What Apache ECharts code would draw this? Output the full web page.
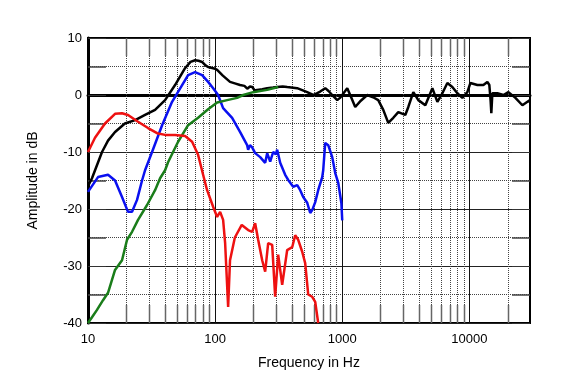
<!DOCTYPE html>
<html><head><meta charset="utf-8">
<script src="https://cdn.jsdelivr.net/npm/echarts@6/dist/echarts.min.js"></script>
<style>html,body{margin:0;padding:0;background:#fff}#c{width:580px;height:387px}</style>
</head><body><div id="c"></div>
<script>
const xTickLabels = [10, 100, 1000, 10000];
const yTickLabels = [-40, -30, -20, -10, 0, 10];
const minorFreqs = [20,30,40,50,60,70,80,90,200,300,400,500,600,700,800,900,2000,3000,4000,5000,6000,7000,8000,9000,20000];

const blackCurve = [[10,-16],[10.75,-14.6],[12.89,-10],[14.37,-8],[16.32,-6.5],[19.5,-5],[23.5,-4.4],[28.1,-3.5],[33.7,-2.6],[40.4,-0.9],[48.4,1.75],[58,4.7],[64,5.8],[69.6,6.1],[74,6.0],[79,5.8],[84,5.2],[88.1,4.9],[100,4.6],[103.7,4.4],[115,3.4],[131,2.3],[145,2.0],[157,1.75],[170,1.6],[179,1.1],[188,1.5],[196,1.4],[205,0.8],[214,0.9],[235,1.0],[257,1.2],[285,1.3],[308,1.4],[340,1.5],[369,1.4],[442,1.2],[530,0.5],[591,0],[630,0.3],[671,0.6],[735,1.2],[780,0.7],[834,0],[914,-0.9],[960,-0.5],[1000,0],[1095,1.2],[1180,-0.5],[1265,-2.1],[1400,-1.0],[1573,0],[1750,-0.4],[1920,-0.9],[2103,-2.6],[2302,-4.9],[2522,-4.0],[2761,-3.0],[3134,-3.5],[3311,-2.1],[3625,0.5],[3968,-0.9],[4505,-1.8],[5117,1.2],[5603,-1.2],[6132,0.3],[6714,2.1],[7348,1.4],[8047,0.3],[8810,-0.5],[9646,0.5],[10183,2.1],[11563,1.75],[12888,1.75],[13863,2.3],[14365,1.75],[14700,-1],[14891,-3.2],[15170,0.3],[16600,0.3],[18530,0],[20290,0.5],[23030,-0.5],[26130,-1.8],[28630,-1.2],[30000,-0.9]];

const blueCurve = [[10,-17],[11.99,-14.4],[14.37,-14],[16.32,-15],[18.52,-17.9],[20.65,-20.5],[22.21,-20.5],[24.31,-18.4],[26.62,-15],[28.11,-13.2],[31.91,-10],[38.27,-5.3],[45.85,-1.2],[55,1.75],[61.3,3.5],[69.6,4.0],[79,3.5],[88.1,2.3],[96.5,1.2],[105.6,0],[115.6,-2.3],[136.1,-4.0],[157.4,-6.5],[178.6,-8.8],[181.9,-9.6],[188,-8.8],[195.6,-9.2],[206.5,-10.2],[226.2,-10.9],[247.6,-11.9],[256.8,-10.2],[271.2,-11.7],[286.2,-10],[300,-10.4],[307.8,-9.6],[325,-11.9],[355.8,-14],[375.6,-14.9],[411.4,-16.1],[442.4,-15.8],[467.1,-16.7],[493.2,-17.9],[530.2,-18.9],[559.8,-20.7],[580.6,-20.2],[613.1,-18.8],[647.1,-16.7],[695.8,-14.4],[708.6,-13.2],[734.8,-8.4],[755,-8.2],[775.9,-8.8],[834.3,-10.9],[881,-13.7],[930.2,-15.4],[985,-19],[1000,-22]];

const redCurve = [[10,-10],[11.35,-7.5],[13.61,-5],[16.32,-3.3],[18.52,-3.2],[20.65,-3.5],[24.76,-4.7],[29.68,-5.8],[34.95,-6.7],[40.4,-7.0],[48.42,-7.0],[58.04,-7.2],[65.91,-8.2],[73.47,-10.5],[80.46,-14],[86.49,-16.7],[96.45,-19.6],[103.7,-21.4],[109.5,-20.5],[115.6,-21.9],[119.9,-26],[126.6,-37.2],[131,-29],[143,-25],[162,-22.8],[181.9,-23.7],[195.6,-24],[206.5,-22.5],[218.1,-25.4],[234.6,-29],[247.6,-31],[261.5,-26],[281.2,-26.3],[296.8,-35.4],[313.4,-28],[337,-33.3],[368.9,-27.2],[404,-26.7],[426.6,-24.6],[450.5,-25.4],[484.2,-27.5],[511.2,-29.5],[539.9,-35],[580.6,-35.4],[613.1,-36.3],[647.1,-40]];

const greenCurve = [[10,-40],[10.75,-39],[11.77,-37.7],[13.13,-36],[14.37,-34.7],[16.32,-30.7],[18.52,-29],[20.28,-25.4],[22.21,-24],[24.76,-21.9],[29.15,-19.3],[33.7,-16.7],[36.9,-14.6],[40.4,-13.2],[42.65,-11.8],[51.14,-8.2],[61.29,-5.3],[73.47,-4],[88.08,-2.5],[103.7,-1.3],[124.3,-0.9],[149,-0.5],[166.2,0],[199.2,0.5],[256.8,0.9],[313.4,1.4]];

const FONT = "'Liberation Sans', Arial, sans-serif";
const chart = echarts.init(document.getElementById('c'), null, {renderer: 'canvas'});

function lineSeries(data, color) {
  return {type: 'line', data: data, symbol: 'none', smooth: false, z: 5,
    lineStyle: {color: color, width: 2.5}, itemStyle: {color: color}};
}

const yCommon = {type: 'value', min: -40, max: 10, interval: 10};

chart.setOption({
  animation: false,
  backgroundColor: '#fff',
  grid: {left: 88, right: 50, top: 38, bottom: 64, show: true, borderColor: '#000', borderWidth: 2, backgroundColor: 'transparent'},
  xAxis: {
    type: 'log', logBase: 10, min: 10, max: 30000,
    name: 'Frequency in Hz', nameLocation: 'middle', nameGap: 33,
    nameTextStyle: {fontFamily: FONT, fontSize: 14, color: '#000'},
    axisLine: {show: true, lineStyle: {color: '#000', width: 3}},
    axisTick: {show: false},
    axisLabel: {fontFamily: FONT, fontSize: 13, color: '#000', margin: 10,
      formatter: function (v) { return xTickLabels.indexOf(Math.round(v)) >= 0 && Math.abs(Math.log10(v) - Math.round(Math.log10(v))) < 1e-6 ? String(Math.round(v)) : ''; }},
    splitLine: {show: true, lineStyle: {color: '#111', width: 1}}
  },
  yAxis: [
    Object.assign({}, yCommon, {
      position: 'left',
      name: 'Amplitude in dB', nameLocation: 'middle', nameGap: 48,
      nameTextStyle: {fontFamily: FONT, fontSize: 14, color: '#000'},
      axisLine: {show: true, lineStyle: {color: '#000', width: 3}},
      axisTick: {show: true, inside: true, length: 18, lineStyle: {color: '#333'}},
      minorTick: {show: true, splitNumber: 2, length: 18, lineStyle: {color: '#444', width: 1.5}},
      axisLabel: {fontFamily: FONT, fontSize: 13, color: '#000', margin: 6,
        formatter: function (v) { return yTickLabels.indexOf(v) >= 0 ? String(v) : ''; }},
      splitLine: {show: true, lineStyle: {color: '#222', width: 1}},
      minorSplitLine: {show: true, lineStyle: {color: '#444', width: 1, type: [1, 1]}}
    }),
    Object.assign({}, yCommon, {
      position: 'right',
      axisLine: {show: true, lineStyle: {color: '#000', width: 2}},
      axisTick: {show: true, inside: true, length: 18, lineStyle: {color: '#333'}},
      minorTick: {show: true, splitNumber: 2, length: 18, lineStyle: {color: '#444', width: 1.5}},
      axisLabel: {show: false},
      splitLine: {show: false}
    })
  ],
  series: [
    {
      type: 'custom', silent: true, z: 1,
      data: minorFreqs.map(function (f) { return [f, -40]; }),
      renderItem: function (params, api) {
        const x = Math.round(api.coord([api.value(0), -40])[0]) + 0.5;
        const yb = api.coord([api.value(0), -40])[1];
        const yt = api.coord([api.value(0), 10])[1];
        return {type: 'group', children: [
          {type: 'line', shape: {x1: x, y1: yt, x2: x, y2: yb}, style: {stroke: '#444', lineWidth: 1, lineDash: [1, 1]}},
          {type: 'line', shape: {x1: x, y1: yb, x2: x, y2: yb - 18}, style: {stroke: '#666', lineWidth: 1.5}},
          {type: 'line', shape: {x1: x, y1: yt, x2: x, y2: yt + 18}, style: {stroke: '#666', lineWidth: 1.5}}
        ]};
      }
    },
    lineSeries(blackCurve, '#000000'),
    lineSeries(blueCurve, '#0a10f0'),
    lineSeries(greenCurve, '#1a7d1a'),
    lineSeries(redCurve, '#ee1111')
  ]
});
</script>
</body></html>
